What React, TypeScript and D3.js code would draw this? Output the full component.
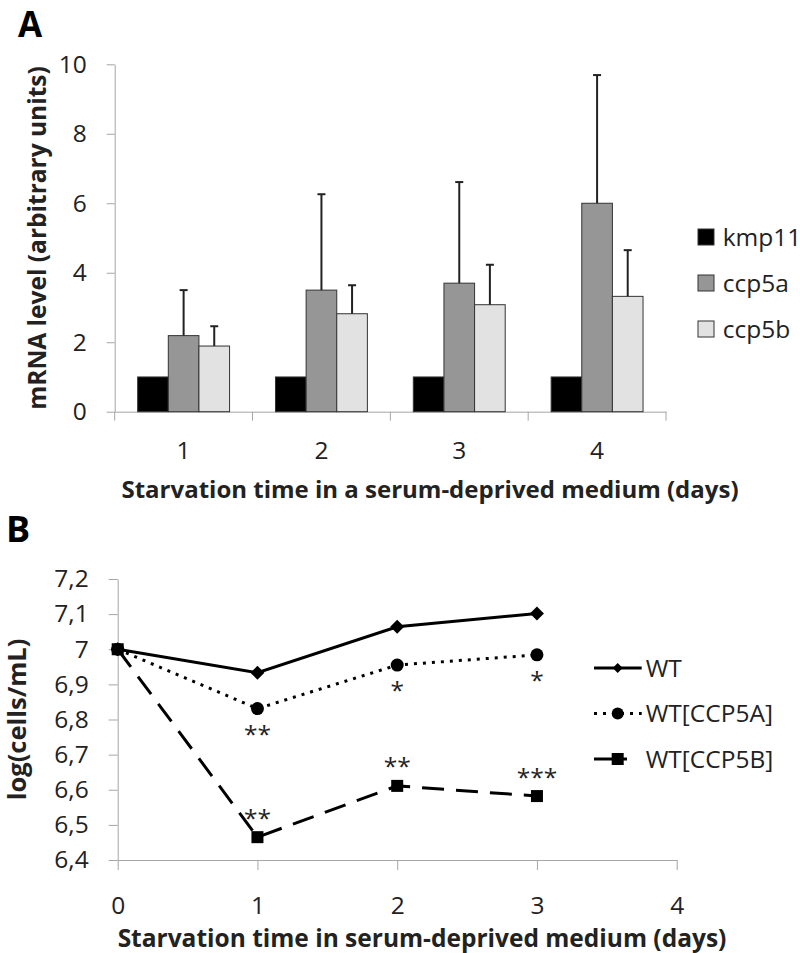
import { useEffect, useRef } from "react";
import * as d3 from "d3";

// Panel A: mRNA levels
const days = ["1", "2", "3", "4"];
const genes = ["kmp11", "ccp5a", "ccp5b"];
const kmp11 = [1, 1, 1, 1];
const ccp5a = [2.19, 3.5, 3.7, 6.0];
const ccp5aSd = [1.31, 2.76, 2.91, 3.69];
const ccp5b = [1.89, 2.82, 3.08, 3.32];
const ccp5bSd = [0.57, 0.82, 1.15, 1.33];
const yTicksA = [0, 2, 4, 6, 8, 10];

// Panel B: growth curves
const timeDays = [0, 1, 2, 3];
const xTicksB = [0, 1, 2, 3, 4];
const yTicksB = [6.4, 6.5, 6.6, 6.7, 6.8, 6.9, 7.0, 7.1, 7.2];
const wtLine = [7.0, 6.933, 7.064, 7.102];
const ccp5aLine = [7.0, 6.831, 6.955, 6.984];
const ccp5bLine = [7.0, 6.465, 6.611, 6.582];
const seriesNames = ["WT", "WT[CCP5A]", "WT[CCP5B]"];
const stars = [
  { series: 1, day: 1, label: "**", pos: "below" },
  { series: 1, day: 2, label: "*", pos: "below" },
  { series: 1, day: 3, label: "*", pos: "below" },
  { series: 2, day: 1, label: "**", pos: "above" },
  { series: 2, day: 2, label: "**", pos: "above" },
  { series: 2, day: 3, label: "***", pos: "above" },
];

const FONT = "'Open Sans', sans-serif";
const AXIS = "#a6a6a6";
const TEXT = "#222";
const FS = 24.5; // regular text
const FT = 24.5; // bold titles

function App() {
  const svgRef = useRef<SVGSVGElement | null>(null);
  const width = 800;
  const height = 953;

  useEffect(() => {
    const svg = d3.select(svgRef.current);
    svg.selectAll("*").remove();
    svg.attr("font-family", FONT);

    // ---------- Panel A ----------
    const xA = d3.scaleBand().domain(days).range([114.7, 666]);
    const xInner = d3.scaleBand().domain(genes).range([0, xA.bandwidth()]).paddingOuter(0.75);
    const yA = d3.scaleLinear().domain([0, 10]).range([411.7, 64.3]);
    const colorA = d3.scaleOrdinal<string, string>().domain(genes).range(["#000000", "#969696", "#e2e2e2"]);

    svg.append("text").attr("x", 18).attr("y", 37).attr("font-size", 35).attr("font-weight", 700).text("A");

    const gyA = svg.append("g").attr("transform", "translate(114.7,0)");
    gyA.call(d3.axisLeft(yA).tickValues(yTicksA).tickSize(8).tickPadding(20).tickSizeOuter(0));
    gyA.select(".domain").attr("stroke", AXIS);
    gyA.selectAll(".tick line").attr("stroke", AXIS);
    gyA.selectAll(".tick text").attr("font-size", FS).attr("font-family", FONT).attr("fill", TEXT);

    // x axis: baseline + boundary ticks + centred labels
    const gxA = svg.append("g").attr("transform", `translate(0,${yA(0)})`);
    gxA.call(d3.axisBottom(xA).tickSize(0).tickPadding(30).tickSizeOuter(0));
    gxA.select(".domain").attr("stroke", AXIS);
    gxA.selectAll(".tick text").attr("font-size", FS).attr("font-family", FONT).attr("fill", TEXT);
    const edges = [...days.map((d) => xA(d) as number), xA.range()[1]];
    gxA.selectAll("line.edge").data(edges).enter().append("line")
      .attr("x1", (d) => d).attr("x2", (d) => d).attr("y1", 0).attr("y2", 9).attr("stroke", AXIS);

    const rows = days.map((d, i) => ({
      day: d,
      bars: [
        { gene: "kmp11", v: kmp11[i], sd: 0 },
        { gene: "ccp5a", v: ccp5a[i], sd: ccp5aSd[i] },
        { gene: "ccp5b", v: ccp5b[i], sd: ccp5bSd[i] },
      ],
    }));

    const groups = svg.append("g").selectAll("g").data(rows).enter().append("g")
      .attr("transform", (r) => `translate(${xA(r.day)},0)`);
    groups.selectAll("rect").data((r) => r.bars).enter().append("rect")
      .attr("x", (b) => xInner(b.gene) as number)
      .attr("y", (b) => yA(b.v))
      .attr("width", xInner.bandwidth())
      .attr("height", (b) => yA(0) - yA(b.v))
      .attr("fill", (b) => colorA(b.gene))
      .attr("stroke", "#333")
      .attr("stroke-width", 1);
    const errs = groups.selectAll("g.err").data((r) => r.bars.filter((b) => b.sd > 0)).enter().append("g")
      .attr("transform", (b) => `translate(${(xInner(b.gene) as number) + xInner.bandwidth() / 2},0)`);
    errs.append("line").attr("x1", 0).attr("x2", 0)
      .attr("y1", (b) => yA(b.v)).attr("y2", (b) => yA(b.v + b.sd))
      .attr("stroke", "#222").attr("stroke-width", 2);
    errs.append("line").attr("x1", -4).attr("x2", 4)
      .attr("y1", (b) => yA(b.v + b.sd)).attr("y2", (b) => yA(b.v + b.sd))
      .attr("stroke", "#222").attr("stroke-width", 2);

    svg.append("text")
      .attr("transform", `translate(46,${(yA(0) + yA(10)) / 2}) rotate(-90)`)
      .attr("text-anchor", "middle").attr("font-size", FT).attr("font-weight", 700).attr("fill", TEXT)
      .text("mRNA level (arbitrary units)");
    svg.append("text").attr("x", 430).attr("y", 498).attr("text-anchor", "middle")
      .attr("font-size", 24).attr("font-weight", 700).attr("fill", TEXT)
      .text("Starvation time in a serum-deprived medium (days)");

    const legA = svg.append("g").attr("transform", "translate(698,229)");
    genes.forEach((g, i) => {
      const row = legA.append("g").attr("transform", `translate(0,${i * 46})`);
      row.append("rect").attr("width", 16).attr("height", 16).attr("fill", colorA(g)).attr("stroke", "#333");
      row.append("text").attr("x", 24.7).attr("y", 16.5).attr("font-size", FS).attr("fill", TEXT).text(g);
    });

    // ---------- Panel B ----------
    const xB = d3.scaleLinear().domain([0, 4]).range([117.7, 676.7]);
    const yB = d3.scaleLinear().domain([6.4, 7.2]).range([860, 579]);
    const fmt = (d: d3.NumberValue) => String(+(+d).toFixed(1)).replace(".", ",");

    svg.append("text").attr("x", 6).attr("y", 542).attr("font-size", 36).attr("font-weight", 700).text("B");

    const gyB = svg.append("g").attr("transform", `translate(${xB(0)},0)`);
    gyB.call(d3.axisLeft(yB).tickValues(yTicksB).tickFormat(fmt).tickSize(9).tickPadding(20).tickSizeOuter(0));
    gyB.select(".domain").attr("stroke", AXIS);
    gyB.selectAll(".tick line").attr("stroke", AXIS);
    gyB.selectAll(".tick text").attr("font-size", FS).attr("font-family", FONT).attr("fill", TEXT);

    const gxB = svg.append("g").attr("transform", `translate(0,${yB(6.4)})`);
    gxB.call(d3.axisBottom(xB).tickValues(xTicksB).tickFormat(d3.format("d")).tickSize(10).tickPadding(27).tickSizeOuter(0));
    gxB.select(".domain").attr("stroke", AXIS);
    gxB.selectAll(".tick line").attr("stroke", AXIS);
    gxB.selectAll(".tick text").attr("font-size", FS).attr("font-family", FONT).attr("fill", TEXT);

    const lineGen = d3.line<number>().x((_, i) => xB(timeDays[i])).y((v) => yB(v));
    const series = [
      { name: seriesNames[0], values: wtLine, dash: null, marker: "diamond" },
      { name: seriesNames[1], values: ccp5aLine, dash: "3,6", marker: "circle" },
      { name: seriesNames[2], values: ccp5bLine, dash: "22,12", marker: "square" },
    ];

    const drawMarker = (g: any, type: string, s: number) => {
      if (type === "diamond") g.append("path").attr("d", `M0,${-s}L${s},0L0,${s}L${-s},0Z`).attr("fill", "#000");
      else if (type === "circle") g.append("circle").attr("r", s).attr("fill", "#000");
      else g.append("rect").attr("x", -s).attr("y", -s).attr("width", 2 * s).attr("height", 2 * s).attr("fill", "#000");
    };

    series.forEach((s) => {
      svg.append("path").attr("d", lineGen(s.values))
        .attr("fill", "none").attr("stroke", "#000").attr("stroke-width", 3)
        .attr("stroke-dasharray", s.dash);
    });
    series.forEach((s) => {
      s.values.forEach((v, i) => {
        const g = svg.append("g").attr("transform", `translate(${xB(timeDays[i])},${yB(v)})`);
        drawMarker(g, s.marker, s.marker === "diamond" ? 7 : s.marker === "circle" ? 6.5 : 6);
      });
    });

    const seriesVals = [wtLine, ccp5aLine, ccp5bLine];
    svg.append("g").selectAll("text").data(stars).enter().append("text")
      .attr("x", (d) => xB(d.day))
      .attr("y", (d) => yB(seriesVals[d.series][d.day]) + (d.pos === "below" ? 34 : -10.5))
      .attr("text-anchor", "middle").attr("font-size", FS).attr("fill", TEXT)
      .text((d) => d.label);

    svg.append("text")
      .attr("transform", `translate(26,${(yB(6.4) + yB(7.2)) / 2}) rotate(-90)`)
      .attr("text-anchor", "middle").attr("font-size", 25.5).attr("font-weight", 700).attr("fill", TEXT)
      .text("log(cells/mL)");
    svg.append("text").attr("x", 422).attr("y", 947).attr("text-anchor", "middle")
      .attr("font-size", FT).attr("font-weight", 700).attr("fill", TEXT)
      .text("Starvation time in serum-deprived medium (days)");

    const legB = svg.append("g").attr("transform", "translate(594,668)");
    series.forEach((s, i) => {
      const row = legB.append("g").attr("transform", `translate(0,${i * 45.5})`);
      row.append("line").attr("x1", 0).attr("x2", 47.7).attr("y1", 0).attr("y2", 0)
        .attr("stroke", "#000").attr("stroke-width", 3)
        .attr("stroke-dasharray", s.dash === "22,12" ? "18,11,4,20" : s.dash);
      const m = row.append("g").attr("transform", "translate(23.7,0)");
      drawMarker(m, s.marker, s.marker === "diamond" ? 5 : 6);
      row.append("text").attr("x", 51.7).attr("y", 8.5).attr("font-size", FS).attr("fill", TEXT).text(s.name);
    });
  }, []);

  return (
    <svg
      ref={svgRef}
      width={width}
      height={height}
      style={{ position: "absolute", left: 0, top: 0, background: "#fff" }}
    />
  );
}

export default App;
